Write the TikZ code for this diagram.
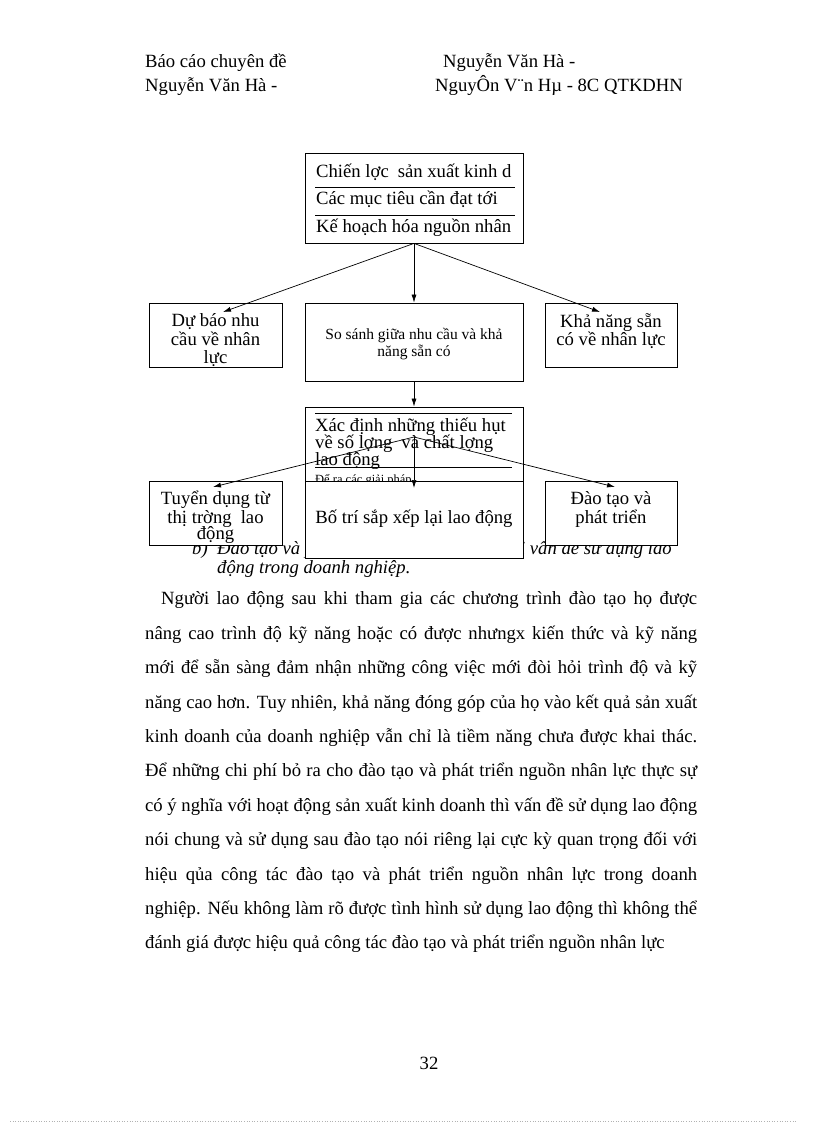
\documentclass[tikz,border=0pt]{standalone}
\usepackage{fontspec}
\setmainfont{Liberation Serif}
\usetikzlibrary{arrows.meta}
\newcommand\fbig{\fontsize{18.67}{20}\selectfont}
\newcommand\fmid{\fontsize{15.5}{17}\selectfont}
\newcommand\fsml{\fontsize{12.5}{14}\selectfont}
\tikzset{
  box/.style={draw, fill=white, line width=0.8pt, inner sep=0pt},
  tl/.style={inner sep=0pt, anchor=base west, font=\fbig},
  tc/.style={inner sep=0pt, anchor=base, font=\fbig},
  tr/.style={inner sep=0pt, anchor=base east, font=\fbig},
  ital/.style={inner sep=0pt, anchor=base west, font=\fbig\itshape},
  sep/.style={line width=0.8pt},
  arr/.style={-{Latex[length=8pt,width=5pt]}, line width=0.7pt},
}
\newcommand\jline[1]{\makebox[552pt][s]{#1}}
\begin{document}
\begin{tikzpicture}[x=1pt,y=-1pt]
\useasboundingbox (0,0) rectangle (816,1123);
% header
\node[tl] (h1) at (145,68) {Báo cáo chuyên đề};
\node[tl] (h2) at (443,68) {Nguyễn Văn Hà -};
\node[tl] (h3) at (145,92) {Nguyễn Văn Hà -};
\node[tl] (h4) at (435,92) {NguyÔn V¨n Hµ - 8C QTKDHN};
% italic heading (partly hidden)
\node[ital] (b1) at (192,554) {b)};
\node[ital] (b2) at (217,554) {Đào tạo và phát triển};
\node[inner sep=0pt, anchor=base east, font=\fbig\itshape] (b3) at (672,554) {với vấn đề sử dụng lao};
\node[ital] (b4) at (217,573) {động trong doanh nghiệp.};
% body
\node[tl] (p1) at (161,604) {\makebox[536pt][s]{Người lao động sau khi tham gia các chương trình đào tạo họ được}};
\node[tl] (p2) at (145,639) {\jline{nâng cao trình độ kỹ năng hoặc có được nhưngx kiến thức và kỹ năng}};
\node[tl] (p3) at (145,673) {\jline{mới để sẵn sàng đảm nhận những công việc mới đòi hỏi trình độ và kỹ}};
\node[tl] (p4) at (145,708) {\jline{năng cao hơn. Tuy nhiên, khả năng đóng góp của họ vào kết quả sản xuất}};
\node[tl] (p5) at (145,742) {\jline{kinh doanh của doanh nghiệp vẫn chỉ là tiềm năng chưa được khai thác.}};
\node[tl] (p6) at (145,776) {\jline{Để những chi phí bỏ ra cho đào tạo và phát triển nguồn nhân lực thực sự}};
\node[tl] (p7) at (145,811) {\jline{có ý nghĩa với hoạt động sản xuất kinh doanh thì vấn đề sử dụng lao động}};
\node[tl] (p8) at (145,845) {\jline{nói chung và sử dụng sau đào tạo nói riêng lại cực kỳ quan trọng đối với}};
\node[tl] (p9) at (145,880) {\jline{hiệu qủa công tác đào tạo và phát triển nguồn nhân lực trong doanh}};
\node[tl] (p10) at (145,914) {\jline{nghiệp. Nếu không làm rõ được tình hình sử dụng lao động thì không thể}};
\node[tl] (p11) at (145,948) {đánh giá được hiệu quả công tác đào tạo và phát triển nguồn nhân lực};
\node[tc] (pg) at (429,1069) {32};
\draw[gray!60, dotted, line width=0.6pt] (10,1121) -- (796,1121);
% top box
\node[box, minimum width=218pt, minimum height=90pt] (top) at (414,198) {};
\node[tl] (t1) at (316,178) {Chiến lợc\hspace{9pt}sản xuất kinh d};
\node[tl] (t2) at (316,205) {Các mục tiêu cần đạt tới};
\node[tl] (t3) at (316,233) {Kế hoạch hóa nguồn nhân};
\draw[sep] (315,187) -- (515,187);
\draw[sep] (315,215) -- (515,215);
% middle row
\node[box, minimum width=133pt, minimum height=64pt] (dubao) at (215.5,335) {};
\node[tc] (d1) at (215.5,326) {Dự báo nhu};
\node[tc] (d2) at (215.5,345) {cầu về nhân};
\node[tc] (d3) at (215.5,363) {lực};
\node[box, minimum width=218pt, minimum height=78pt] (sosanh) at (414,342) {};
\node[inner sep=0pt, anchor=base, font=\fmid] (s1) at (414,339) {So sánh giữa nhu cầu và khả};
\node[inner sep=0pt, anchor=base, font=\fmid] (s2) at (414,356) {năng sẵn có};
\node[box, minimum width=132pt, minimum height=64pt] (khanang) at (611,335) {};
\node[tc] (k1) at (611,327) {Khả năng sẵn};
\node[tc] (k2) at (611,345) {có về nhân lực};
% box 4
\node[box, minimum width=218pt, minimum height=93pt] (xacdinh) at (414,453.5) {};
\draw[sep] (315,413) -- (512,413);
\node[tl] (x1) at (315,431) {Xác định những thiếu hụt};
\node[tl] (x2) at (315,448) {về số lợng\hspace{9pt}và chất lợng};
\node[tl] (x3) at (315,465) {lao động};
\draw[sep] (315,467) -- (512,467);
\node[inner sep=0pt, anchor=base west, font=\fsml] (x4) at (315,483) {Để ra các giải pháp};
% bottom row
\node[box, minimum width=133pt, minimum height=64pt] (tuyen) at (215.5,513) {};
\node[tc] (u1) at (215.5,504) {Tuyển dụng từ};
\node[tc] (u2) at (215.5,523) {thị trờng\hspace{9pt}lao};
\node[tc] (u3) at (215.5,539) {động};
\node[box, minimum width=218pt, minimum height=77pt] (botri) at (414,519.5) {};
\node[tc] (o1) at (414,523) {Bố trí sắp xếp lại lao động};
\node[box, minimum width=132pt, minimum height=64pt] (daotao) at (611,513) {};
\node[tc] (e1) at (611,504) {Đào tạo và};
\node[tc] (e2) at (611,523) {phát triển};
% connectors
\coordinate (a1) at (223,312);
\coordinate (a2) at (600,312);
\coordinate (split) at (414,437);
\coordinate (a3) at (213,487);
\coordinate (a4) at (414,488);
\coordinate (a5) at (615,487);
\draw[arr] (top.south) -- (a1);
\draw[arr] (top.south) -- (sosanh.north);
\draw[arr] (top.south) -- (a2);
\draw[arr] (sosanh.south) -- (xacdinh.north);
\draw[arr] (split) -- (a3);
\draw[arr] (split) -- (a4);
\draw[arr] (split) -- (a5);
\end{tikzpicture}
\end{document}
